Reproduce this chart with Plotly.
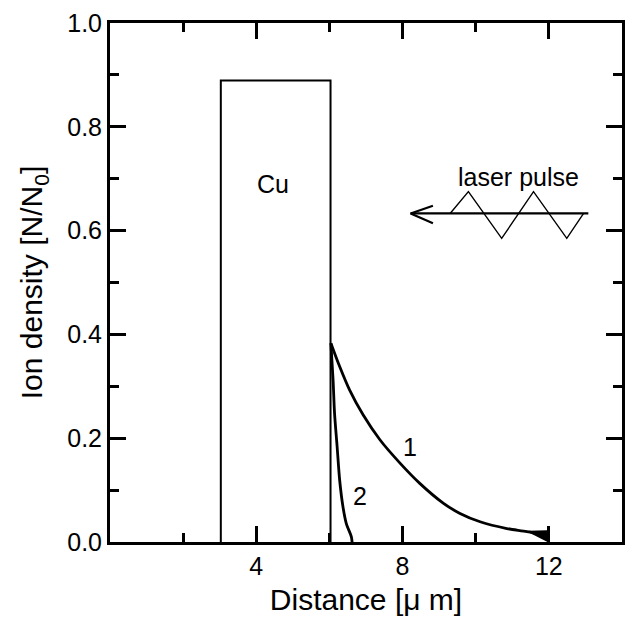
import plotly.graph_objects as go

# ---- data ----
cu_x = [3.03, 3.03, 6.03, 6.03]
cu_y = [0, 0.889, 0.889, 0]

curve1_x = [6.04, 6.28, 6.55, 6.92, 7.38, 7.93, 8.47, 9.11, 9.57, 10.12, 10.85, 11.40, 11.93]
curve1_y = [0.383, 0.338, 0.293, 0.245, 0.197, 0.152, 0.113, 0.075, 0.055, 0.039, 0.026, 0.020, 0.012]

curve2_x = [6.04, 6.10, 6.14, 6.21, 6.28, 6.37, 6.46, 6.60, 6.62]
curve2_y = [0.383, 0.312, 0.248, 0.184, 0.119, 0.068, 0.036, 0.010, 0.0]

# filled wedge at the end of curve 1
wedge_x = [11.45, 11.93, 11.93, 11.45]
wedge_y = [0.020, 0.021, 0.003, 0.020]

# laser pulse glyph
arrow_x = [13.08, 8.22]
arrow_y = [0.633, 0.633]
head_x = [8.83, 8.22, 8.83]
head_y = [0.648, 0.633, 0.614]
wave_x = [9.30, 9.80, 10.71, 11.58, 12.49, 12.95]
wave_y = [0.633, 0.675, 0.585, 0.675, 0.585, 0.633]

labels = ["Cu", "laser pulse", "1", "2"]
label_x = [4.45, 11.16, 8.2, 6.83]
label_y = [0.69, 0.703, 0.184, 0.089]

FONT = "Liberation Sans, Arial, sans-serif"

fig = go.Figure()
fig.add_trace(go.Scatter(x=cu_x, y=cu_y, mode="lines", line=dict(color="black", width=2)))
fig.add_trace(go.Scatter(x=curve1_x, y=curve1_y, mode="lines", line=dict(color="black", width=2.8, shape="spline", smoothing=0.8)))
fig.add_trace(go.Scatter(x=curve2_x, y=curve2_y, mode="lines", line=dict(color="black", width=2.8, shape="spline", smoothing=0.8)))
fig.add_trace(go.Scatter(x=wedge_x, y=wedge_y, mode="lines", fill="toself", fillcolor="black", line=dict(color="black", width=1.5)))
fig.add_trace(go.Scatter(x=arrow_x, y=arrow_y, mode="lines", line=dict(color="black", width=2.2)))
fig.add_trace(go.Scatter(x=head_x, y=head_y, mode="lines", line=dict(color="black", width=2.2)))
fig.add_trace(go.Scatter(x=wave_x, y=wave_y, mode="lines", line=dict(color="black", width=1.4)))

for t, xx, yy in zip(labels, label_x, label_y):
    fig.add_annotation(x=xx, y=yy, text=t, showarrow=False,
                       font=dict(family=FONT, size=25, color="black"))

axis_common = dict(
    showgrid=False, zeroline=False, showline=True, linecolor="black", linewidth=3,
    mirror="ticks", ticks="inside", ticklen=16, tickwidth=2.5, tickcolor="black",
    tickfont=dict(family=FONT, size=25, color="black"), automargin=False,
)
fig.update_xaxes(range=[0, 14], tickvals=[4, 8, 12], ticktext=["4", "8", "12"],
                 minor=dict(ticks="inside", ticklen=9, tickwidth=2.5, tickcolor="black", tickvals=[2, 6, 10]),
                 title=dict(text="Distance [μ m]", font=dict(family=FONT, size=30, color="black"), standoff=10),
                 **axis_common)
fig.update_yaxes(range=[0, 1.0], dtick=0.2, tick0=0, tickformat=".1f",
                 minor=dict(ticks="inside", ticklen=9, tickwidth=2.5, tickcolor="black", dtick=0.1),
                 title=dict(text="Ion density [N/N<sub>0</sub>]", font=dict(family=FONT, size=30, color="black"), standoff=16),
                 **axis_common)

fig.update_layout(
    width=626, height=618, showlegend=False,
    plot_bgcolor="white", paper_bgcolor="white",
    margin=dict(l=110, r=4, t=23, b=76),
)
fig.write_html("out.html", config={"displayModeBar": False},
               post_script="document.body.style.margin='0';document.body.style.padding='0';document.body.style.overflow='hidden';")
